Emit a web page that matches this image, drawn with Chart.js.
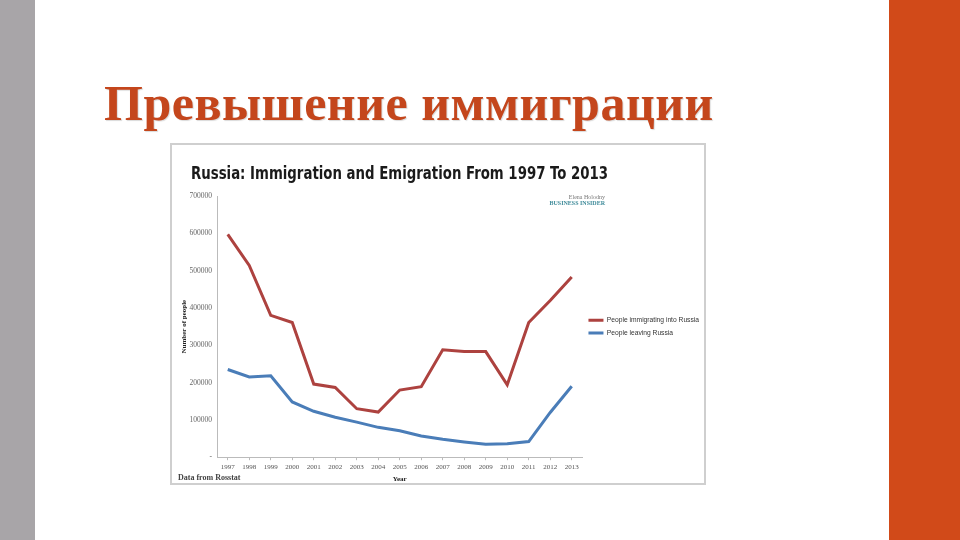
<!DOCTYPE html>
<html>
<head>
<meta charset="utf-8">
<script src="https://cdn.jsdelivr.net/npm/chart.js@4.4.1/dist/chart.umd.min.js"></script>
<style>
    body { margin: 0; width: 960px; height: 540px; background: #fff; position: relative; overflow: hidden; }
    #leftbar { position: absolute; left: 0; top: 0; width: 35px; height: 540px; background: #a8a5a8; }
    #rightbar { position: absolute; left: 889px; top: 0; width: 71px; height: 540px; background: #d14a19; }
    h1 { position: absolute; left: 104px; top: 74px; margin: 0; font: bold 50px 'Liberation Serif', serif; color: #c4461c;
         letter-spacing: 0.5px; text-shadow: 1px 1px 1px rgba(0,0,0,0.15); white-space: nowrap; }
    #box { position: absolute; left: 170px; top: 143px; width: 536px; height: 342px; border: 2px solid #cfcfcf; box-sizing: border-box; }
    #box canvas { position: absolute; left: 0; top: 0; }
</style>
</head>
<body>
<div id="leftbar"></div>
<div id="rightbar"></div>
<h1>Превышение иммиграции</h1>
<div id="box"><canvas id="myChart" width="532" height="338"></canvas></div>
<script>
// data
var years = ['1997', '1998', '1999', '2000', '2001', '2002', '2003', '2004', '2005', '2006', '2007', '2008', '2009', '2010', '2011', '2012', '2013'];
var immigrating = [597000, 514000, 380000, 361000, 196000, 187000, 130000, 121000, 180000, 189000, 288000, 283000, 283000, 194000, 361000, 420000, 483000];
var leaving = [235000, 215000, 218000, 148000, 123000, 107000, 94000, 80000, 71000, 57000, 48000, 41000, 35000, 36000, 42000, 120000, 190000];
var yMax = 700000;
var yStep = 100000;

// extra texts from the original image
var textPlugin = {
    id: 'texts',
    afterDraw: function(chart) {
        var c = chart.ctx;
        c.save();
        // chart title, squeezed to the width of the original
        var title = 'Russia: Immigration and Emigration From 1997 To 2013';
        c.font = 'bold 18px "DejaVu Sans Condensed", "DejaVu Sans", sans-serif';
        c.fillStyle = '#1a1a1a';
        c.textBaseline = 'alphabetic';
        var w = c.measureText(title).width;
        c.translate(19, 34);
        c.scale(417 / w, 1);
        c.fillText(title, 0, 0);
        c.restore();

        c.save();
        c.textAlign = 'right';
        c.font = '6px "Liberation Serif", serif';
        c.fillStyle = '#777';
        c.fillText('Elena Holodny', 433, 54);
        c.font = 'bold 6px "Liberation Serif", serif';
        c.fillStyle = '#3d8a99';
        c.fillText('BUSINESS INSIDER', 433, 60);

        c.textAlign = 'left';
        c.font = 'bold 8px "Liberation Serif", serif';
        c.fillStyle = '#444';
        c.fillText('Data from Rosstat', 6, 335);
        c.restore();
    }
};

var ctx = document.getElementById('myChart').getContext('2d');
var myChart = new Chart(ctx, {
    type: 'line',
    data: {
        labels: years,
        datasets: [{
            label: 'People immigrating into Russia',
            data: immigrating,
            borderColor: '#ad423f',
            backgroundColor: '#ad423f',
            borderWidth: 3,
            pointRadius: 0,
            tension: 0,
            fill: false
        }, {
            label: 'People leaving Russia',
            data: leaving,
            borderColor: '#4a7db8',
            backgroundColor: '#4a7db8',
            borderWidth: 3,
            pointRadius: 0,
            tension: 0,
            fill: false
        }]
    },
    options: {
        responsive: false,
        animation: false,
        devicePixelRatio: 1,
        layout: {
            // legend runs a bit past the right edge, like the original
            padding: { top: 51, left: 7, right: -5, bottom: 0 }
        },
        plugins: {
            legend: {
                position: 'right',
                fullSize: false,
                labels: {
                    usePointStyle: true,
                    pointStyle: 'line',
                    pointStyleWidth: 15,
                    padding: 6,
                    color: '#333',
                    font: { family: 'Liberation Sans', size: 6.7 }
                }
            },
            tooltip: { enabled: false }
        },
        scales: {
            x: {
                offset: true,
                grid: { display: true, drawOnChartArea: false, tickLength: 3, color: '#bbb' },
                border: { color: '#bbb' },
                ticks: { color: '#555', font: { family: 'Liberation Serif', size: 7 }, maxRotation: 0, autoSkip: false, padding: 3 },
                title: { display: true, text: 'Year', color: '#222', font: { family: 'Liberation Serif', size: 7, weight: 'bold' }, padding: 0 }
            },
            y: {
                min: 0,
                max: yMax,
                grid: { display: false, drawTicks: false },
                border: { display: true, color: '#bbb' },
                afterFit: function(scale) { scale.width = 38; },
                ticks: {
                    stepSize: yStep,
                    color: '#666',
                    padding: 5,
                    font: { family: 'Liberation Serif', size: 7.5 },
                    callback: function(v) { return v === 0 ? '-' : v; }
                },
                title: { display: true, text: 'Number of people', color: '#222', font: { family: 'Liberation Serif', size: 7, weight: 'bold' }, padding: 1 }
            }
        }
    },
    plugins: [textPlugin]
});
</script>
</body>
</html>
